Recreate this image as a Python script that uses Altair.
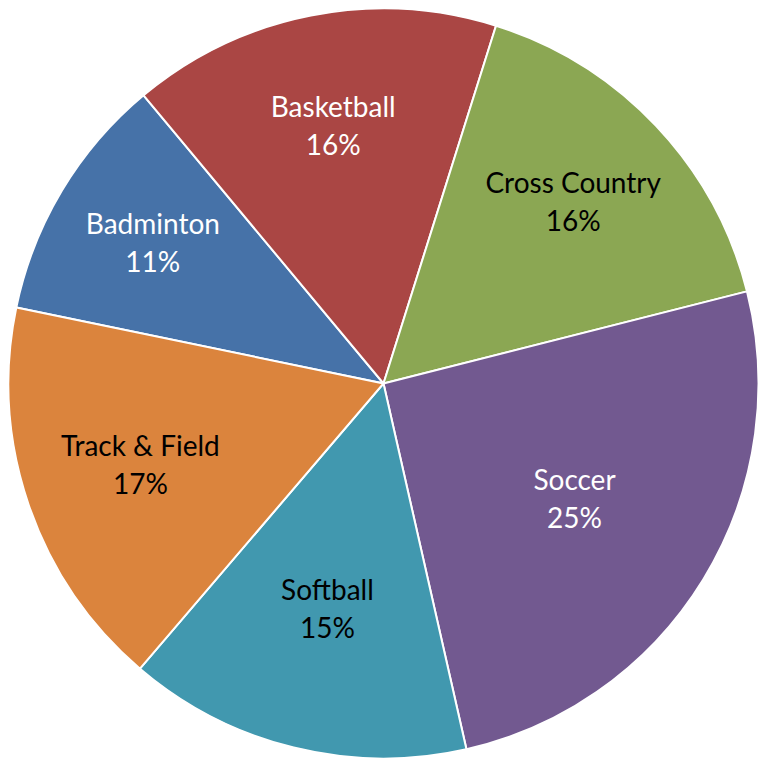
import altair as alt
import pandas as pd
import math

sports = ["Badminton", "Basketball", "Cross Country", "Soccer", "Softball", "Track & Field"]
values = [10.7, 15.9, 16.2, 25.4, 14.8, 17.0]
colors = ["#4672A8", "#AA4644", "#8BA753", "#725990", "#4198AF", "#DB843D"]
text_colors = ["white", "white", "black", "white", "black", "black"]

# layout: distance of each label from the pie centre (px)
label_radius = {"Badminton": 269, "Basketball": 260, "Cross Country": 261,
                "Soccer": 224, "Softball": 234, "Track & Field": 257}

total = sum(values)
df = pd.DataFrame({
    "sport": sports,
    "value": values,
    "order": list(range(len(sports))),
    "label": [f"{s}\n{round(v / total * 100)}%" for s, v in zip(sports, values)],
    "tcolor": text_colors,
    "lr": [label_radius[s] for s in sports],
})

start = math.radians(-78.3)
theta_scale = alt.Scale(domain=[0, total], range=[start, start + 2 * math.pi])

pie = alt.Chart(df).mark_arc(outerRadius=375, stroke="white", strokeWidth=2).encode(
    theta=alt.Theta("value:Q", stack=True, scale=theta_scale),
    order=alt.Order("order:Q"),
    color=alt.Color("sport:N", scale=alt.Scale(domain=sports, range=colors), legend=None),
)

labels = alt.Chart(df).transform_window(
    cum="sum(value)", sort=[alt.SortField("order")]
).transform_calculate(
    mid="datum.cum - datum.value / 2"
).mark_text(fontSize=28, font="Lato", lineBreak="\n", lineHeight=38, dy=-19).encode(
    theta=alt.Theta("mid:Q", stack=False, scale=theta_scale),
    radius=alt.Radius("lr:Q", scale=None, stack=False),
    text="label:N",
    color=alt.Color("tcolor:N", scale=None),
)

chart = (pie + labels).properties(
    width=751, height=751, padding=0,
    autosize=alt.AutoSizeParams(type="fit", contains="padding"),
).configure_view(stroke=None)

chart.save("out.html", embed_options={"renderer": "svg", "actions": False})
